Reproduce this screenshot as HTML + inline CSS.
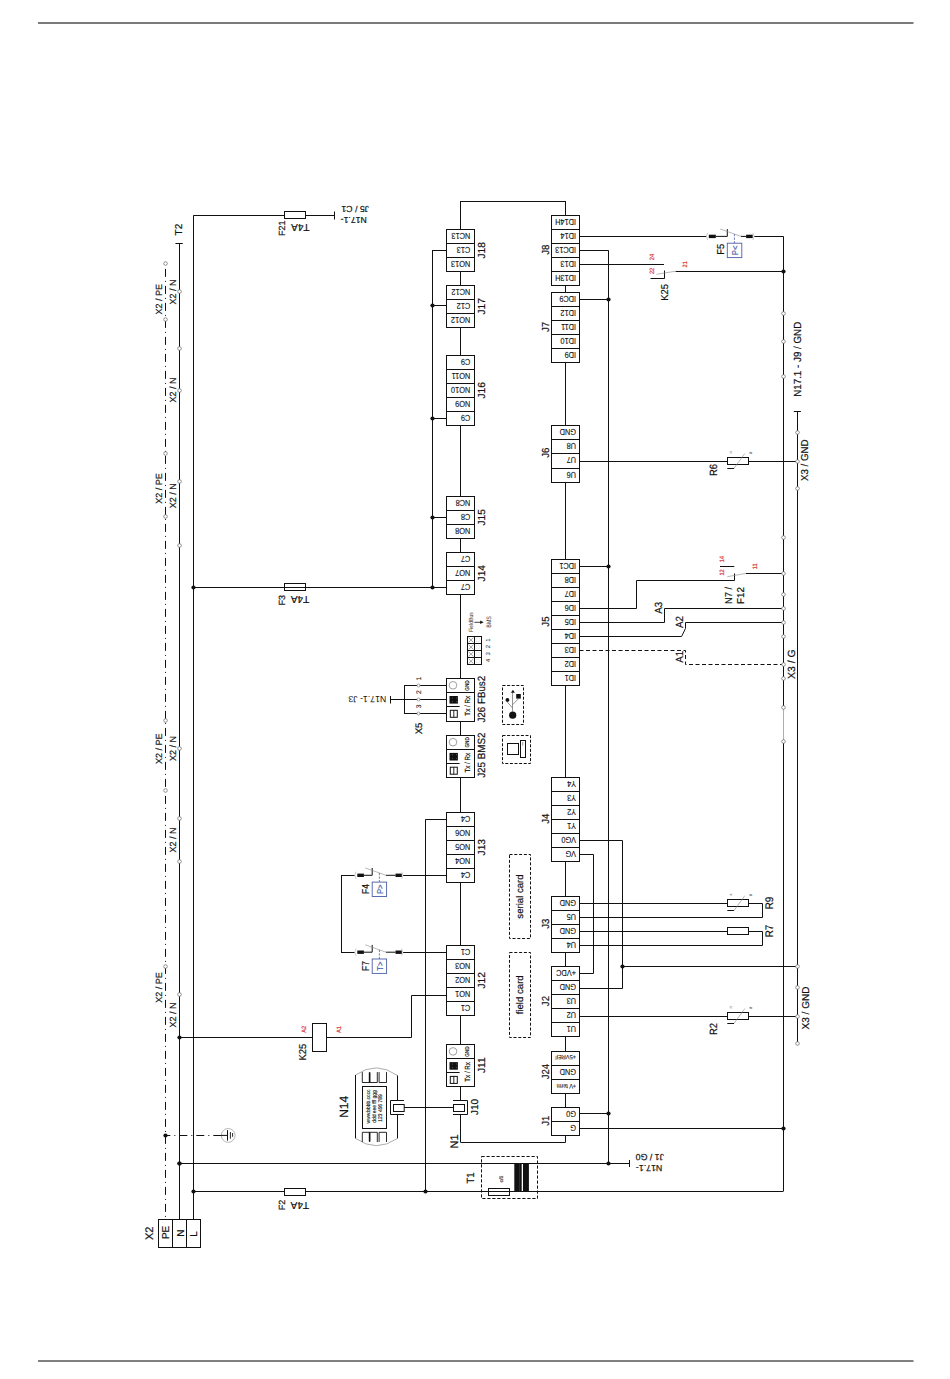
<!DOCTYPE html>
<html><head><meta charset="utf-8"><style>
html,body{margin:0;padding:0;background:#fff;}
svg{display:block;font-family:"Liberation Sans",sans-serif;text-rendering:geometricPrecision;}
</style></head><body>
<svg width="950" height="1379" viewBox="0 0 950 1379">
<rect x="0" y="0" width="950" height="1379" fill="#fff"/>
<rect x="38" y="22" width="875.5" height="2" fill="#7a7a7a"/>
<rect x="38" y="1360" width="875.5" height="2" fill="#808080"/>
<line x1="193.5" y1="215.5" x2="193.5" y2="1219.6" stroke="#111" stroke-width="1" />
<line x1="179.5" y1="243.5" x2="179.5" y2="1219.6" stroke="#111" stroke-width="1" />
<line x1="175.4" y1="243.5" x2="182.8" y2="243.5" stroke="#111" stroke-width="1" />
<line x1="165.5" y1="263.5" x2="165.5" y2="1219.6" stroke="#111" stroke-width="1" stroke-dasharray="8 4 1 4" stroke-dashoffset="11.6"/>
<line x1="193.3" y1="215.5" x2="334.5" y2="215.5" stroke="#111" stroke-width="1" />
<line x1="334.5" y1="211.5" x2="334.5" y2="219.5" stroke="#111" stroke-width="1" />
<rect x="284.5" y="211.5" width="21.0" height="7.0" fill="#fff" stroke="#111" stroke-width="1" />
<line x1="193.3" y1="587.5" x2="446.5" y2="587.5" stroke="#111" stroke-width="1" />
<rect x="284.5" y="583.5" width="21.0" height="7.0" fill="none" stroke="#111" stroke-width="1" />
<circle cx="193.5" cy="587.5" r="2.1" fill="#111"/>
<line x1="432.5" y1="250.4" x2="432.5" y2="587.3" stroke="#111" stroke-width="1" />
<line x1="432" y1="250.5" x2="446.5" y2="250.5" stroke="#111" stroke-width="1" />
<line x1="432" y1="305.5" x2="446.5" y2="305.5" stroke="#111" stroke-width="1" />
<line x1="432" y1="418.5" x2="446.5" y2="418.5" stroke="#111" stroke-width="1" />
<line x1="432" y1="517.5" x2="446.5" y2="517.5" stroke="#111" stroke-width="1" />
<circle cx="432.5" cy="305.5" r="2.1" fill="#111"/>
<circle cx="432.5" cy="418.5" r="2.1" fill="#111"/>
<circle cx="432.5" cy="517.5" r="2.1" fill="#111"/>
<circle cx="432.5" cy="587.5" r="2.1" fill="#111"/>
<line x1="460.5" y1="201" x2="460.5" y2="1142.1" stroke="#111" stroke-width="1" />
<line x1="460.4" y1="201.5" x2="565.7" y2="201.5" stroke="#111" stroke-width="1" />
<line x1="565.5" y1="201" x2="565.5" y2="1142.1" stroke="#111" stroke-width="1" />
<line x1="460.4" y1="1142.5" x2="565.7" y2="1142.5" stroke="#111" stroke-width="1" />
<rect x="446.5" y="229.5" width="28.0" height="42.0" fill="#fff" stroke="#111" stroke-width="1" />
<line x1="446.5" y1="243.5" x2="474.4" y2="243.5" stroke="#111" stroke-width="1" />
<line x1="446.5" y1="257.5" x2="474.4" y2="257.5" stroke="#111" stroke-width="1" />
<text font-size="8.7" fill="#111" stroke="#111" stroke-width="0.12" transform="translate(470.3 233.0) rotate(180) scale(0.85 1)">NC13</text>
<text font-size="8.7" fill="#111" stroke="#111" stroke-width="0.12" transform="translate(470.3 247.0) rotate(180) scale(0.85 1)">C13</text>
<text font-size="8.7" fill="#111" stroke="#111" stroke-width="0.12" transform="translate(470.3 261.0) rotate(180) scale(0.85 1)">NO13</text>
<text x="485.3" y="250.4" font-size="10.2" text-anchor="middle" fill="#111" stroke="#111" stroke-width="0.2" transform="rotate(-90 485.3 250.4)" >J18</text>
<rect x="446.5" y="285.5" width="28.0" height="42.0" fill="#fff" stroke="#111" stroke-width="1" />
<line x1="446.5" y1="299.5" x2="474.4" y2="299.5" stroke="#111" stroke-width="1" />
<line x1="446.5" y1="313.5" x2="474.4" y2="313.5" stroke="#111" stroke-width="1" />
<text font-size="8.7" fill="#111" stroke="#111" stroke-width="0.12" transform="translate(470.3 289.0) rotate(180) scale(0.85 1)">NC12</text>
<text font-size="8.7" fill="#111" stroke="#111" stroke-width="0.12" transform="translate(470.3 303.0) rotate(180) scale(0.85 1)">C12</text>
<text font-size="8.7" fill="#111" stroke="#111" stroke-width="0.12" transform="translate(470.3 317.0) rotate(180) scale(0.85 1)">NO12</text>
<text x="485.3" y="306.4" font-size="10.2" text-anchor="middle" fill="#111" stroke="#111" stroke-width="0.2" transform="rotate(-90 485.3 306.4)" >J17</text>
<rect x="446.5" y="355.5" width="28.0" height="70.0" fill="#fff" stroke="#111" stroke-width="1" />
<line x1="446.5" y1="369.5" x2="474.4" y2="369.5" stroke="#111" stroke-width="1" />
<line x1="446.5" y1="383.5" x2="474.4" y2="383.5" stroke="#111" stroke-width="1" />
<line x1="446.5" y1="397.5" x2="474.4" y2="397.5" stroke="#111" stroke-width="1" />
<line x1="446.5" y1="411.5" x2="474.4" y2="411.5" stroke="#111" stroke-width="1" />
<text font-size="8.7" fill="#111" stroke="#111" stroke-width="0.12" transform="translate(470.3 359.0) rotate(180) scale(0.85 1)">C9</text>
<text font-size="8.7" fill="#111" stroke="#111" stroke-width="0.12" transform="translate(470.3 373.0) rotate(180) scale(0.85 1)">NO11</text>
<text font-size="8.7" fill="#111" stroke="#111" stroke-width="0.12" transform="translate(470.3 387.0) rotate(180) scale(0.85 1)">NO10</text>
<text font-size="8.7" fill="#111" stroke="#111" stroke-width="0.12" transform="translate(470.3 401.0) rotate(180) scale(0.85 1)">NO9</text>
<text font-size="8.7" fill="#111" stroke="#111" stroke-width="0.12" transform="translate(470.3 415.0) rotate(180) scale(0.85 1)">C9</text>
<text x="485.3" y="390.3" font-size="10.2" text-anchor="middle" fill="#111" stroke="#111" stroke-width="0.2" transform="rotate(-90 485.3 390.3)" >J16</text>
<rect x="446.5" y="496.5" width="28.0" height="42.0" fill="#fff" stroke="#111" stroke-width="1" />
<line x1="446.5" y1="510.5" x2="474.4" y2="510.5" stroke="#111" stroke-width="1" />
<line x1="446.5" y1="524.5" x2="474.4" y2="524.5" stroke="#111" stroke-width="1" />
<text font-size="8.7" fill="#111" stroke="#111" stroke-width="0.12" transform="translate(470.3 500.0) rotate(180) scale(0.85 1)">NC8</text>
<text font-size="8.7" fill="#111" stroke="#111" stroke-width="0.12" transform="translate(470.3 514.0) rotate(180) scale(0.85 1)">C8</text>
<text font-size="8.7" fill="#111" stroke="#111" stroke-width="0.12" transform="translate(470.3 528.0) rotate(180) scale(0.85 1)">NO8</text>
<text x="485.3" y="517.3" font-size="10.2" text-anchor="middle" fill="#111" stroke="#111" stroke-width="0.2" transform="rotate(-90 485.3 517.3)" >J15</text>
<rect x="446.5" y="552.5" width="28.0" height="42.0" fill="#fff" stroke="#111" stroke-width="1" />
<line x1="446.5" y1="566.5" x2="474.4" y2="566.5" stroke="#111" stroke-width="1" />
<line x1="446.5" y1="580.5" x2="474.4" y2="580.5" stroke="#111" stroke-width="1" />
<text font-size="8.7" fill="#111" stroke="#111" stroke-width="0.12" transform="translate(470.3 556.0) rotate(180) scale(0.85 1)">C7</text>
<text font-size="8.7" fill="#111" stroke="#111" stroke-width="0.12" transform="translate(470.3 570.0) rotate(180) scale(0.85 1)">NO7</text>
<text font-size="8.7" fill="#111" stroke="#111" stroke-width="0.12" transform="translate(470.3 584.0) rotate(180) scale(0.85 1)">C7</text>
<text x="485.3" y="573.2" font-size="10.2" text-anchor="middle" fill="#111" stroke="#111" stroke-width="0.2" transform="rotate(-90 485.3 573.2)" >J14</text>
<rect x="446.5" y="812.5" width="28.0" height="70.0" fill="#fff" stroke="#111" stroke-width="1" />
<line x1="446.5" y1="826.5" x2="474.4" y2="826.5" stroke="#111" stroke-width="1" />
<line x1="446.5" y1="840.5" x2="474.4" y2="840.5" stroke="#111" stroke-width="1" />
<line x1="446.5" y1="854.5" x2="474.4" y2="854.5" stroke="#111" stroke-width="1" />
<line x1="446.5" y1="868.5" x2="474.4" y2="868.5" stroke="#111" stroke-width="1" />
<text font-size="8.7" fill="#111" stroke="#111" stroke-width="0.12" transform="translate(470.3 816.0) rotate(180) scale(0.85 1)">C4</text>
<text font-size="8.7" fill="#111" stroke="#111" stroke-width="0.12" transform="translate(470.3 830.0) rotate(180) scale(0.85 1)">NO6</text>
<text font-size="8.7" fill="#111" stroke="#111" stroke-width="0.12" transform="translate(470.3 844.0) rotate(180) scale(0.85 1)">NO5</text>
<text font-size="8.7" fill="#111" stroke="#111" stroke-width="0.12" transform="translate(470.3 858.0) rotate(180) scale(0.85 1)">NO4</text>
<text font-size="8.7" fill="#111" stroke="#111" stroke-width="0.12" transform="translate(470.3 872.0) rotate(180) scale(0.85 1)">C4</text>
<text x="485.3" y="847.2" font-size="10.2" text-anchor="middle" fill="#111" stroke="#111" stroke-width="0.2" transform="rotate(-90 485.3 847.2)" >J13</text>
<rect x="446.5" y="945.5" width="28.0" height="70.0" fill="#fff" stroke="#111" stroke-width="1" />
<line x1="446.5" y1="959.5" x2="474.4" y2="959.5" stroke="#111" stroke-width="1" />
<line x1="446.5" y1="973.5" x2="474.4" y2="973.5" stroke="#111" stroke-width="1" />
<line x1="446.5" y1="987.5" x2="474.4" y2="987.5" stroke="#111" stroke-width="1" />
<line x1="446.5" y1="1001.5" x2="474.4" y2="1001.5" stroke="#111" stroke-width="1" />
<text font-size="8.7" fill="#111" stroke="#111" stroke-width="0.12" transform="translate(470.3 949.0) rotate(180) scale(0.85 1)">C1</text>
<text font-size="8.7" fill="#111" stroke="#111" stroke-width="0.12" transform="translate(470.3 963.0) rotate(180) scale(0.85 1)">NO3</text>
<text font-size="8.7" fill="#111" stroke="#111" stroke-width="0.12" transform="translate(470.3 977.0) rotate(180) scale(0.85 1)">NO2</text>
<text font-size="8.7" fill="#111" stroke="#111" stroke-width="0.12" transform="translate(470.3 991.0) rotate(180) scale(0.85 1)">NO1</text>
<text font-size="8.7" fill="#111" stroke="#111" stroke-width="0.12" transform="translate(470.3 1005.0) rotate(180) scale(0.85 1)">C1</text>
<text x="485.3" y="980.3" font-size="10.2" text-anchor="middle" fill="#111" stroke="#111" stroke-width="0.2" transform="rotate(-90 485.3 980.3)" >J12</text>
<rect x="551.5" y="215.5" width="28.0" height="70.0" fill="#fff" stroke="#111" stroke-width="1" />
<line x1="551.8" y1="229.5" x2="579.6999999999999" y2="229.5" stroke="#111" stroke-width="1" />
<line x1="551.8" y1="243.5" x2="579.6999999999999" y2="243.5" stroke="#111" stroke-width="1" />
<line x1="551.8" y1="257.5" x2="579.6999999999999" y2="257.5" stroke="#111" stroke-width="1" />
<line x1="551.8" y1="271.5" x2="579.6999999999999" y2="271.5" stroke="#111" stroke-width="1" />
<text font-size="8.7" fill="#111" stroke="#111" stroke-width="0.12" transform="translate(576.1 219.0) rotate(180) scale(0.85 1)">ID14H</text>
<text font-size="8.7" fill="#111" stroke="#111" stroke-width="0.12" transform="translate(576.1 233.0) rotate(180) scale(0.85 1)">ID14</text>
<text font-size="8.7" fill="#111" stroke="#111" stroke-width="0.12" transform="translate(576.1 247.0) rotate(180) scale(0.85 1)">IDC13</text>
<text font-size="8.7" fill="#111" stroke="#111" stroke-width="0.12" transform="translate(576.1 261.0) rotate(180) scale(0.85 1)">ID13</text>
<text font-size="8.7" fill="#111" stroke="#111" stroke-width="0.12" transform="translate(576.1 275.0) rotate(180) scale(0.85 1)">ID13H</text>
<text font-size="10.2" text-anchor="middle" fill="#111" stroke="#111" stroke-width="0.2" transform="translate(549.0 249.70000000000002) rotate(-90) scale(0.94 1)">J8</text>
<rect x="551.5" y="292.5" width="28.0" height="70.0" fill="#fff" stroke="#111" stroke-width="1" />
<line x1="551.8" y1="306.5" x2="579.6999999999999" y2="306.5" stroke="#111" stroke-width="1" />
<line x1="551.8" y1="320.5" x2="579.6999999999999" y2="320.5" stroke="#111" stroke-width="1" />
<line x1="551.8" y1="334.5" x2="579.6999999999999" y2="334.5" stroke="#111" stroke-width="1" />
<line x1="551.8" y1="348.5" x2="579.6999999999999" y2="348.5" stroke="#111" stroke-width="1" />
<text font-size="8.7" fill="#111" stroke="#111" stroke-width="0.12" transform="translate(576.1 296.0) rotate(180) scale(0.85 1)">IDC9</text>
<text font-size="8.7" fill="#111" stroke="#111" stroke-width="0.12" transform="translate(576.1 310.0) rotate(180) scale(0.85 1)">ID12</text>
<text font-size="8.7" fill="#111" stroke="#111" stroke-width="0.12" transform="translate(576.1 324.0) rotate(180) scale(0.85 1)">ID11</text>
<text font-size="8.7" fill="#111" stroke="#111" stroke-width="0.12" transform="translate(576.1 338.0) rotate(180) scale(0.85 1)">ID10</text>
<text font-size="8.7" fill="#111" stroke="#111" stroke-width="0.12" transform="translate(576.1 352.0) rotate(180) scale(0.85 1)">ID9</text>
<text font-size="10.2" text-anchor="middle" fill="#111" stroke="#111" stroke-width="0.2" transform="translate(549.0 326.9) rotate(-90) scale(0.94 1)">J7</text>
<rect x="551.5" y="425.5" width="28.0" height="57.0" fill="#fff" stroke="#111" stroke-width="1" />
<line x1="551.8" y1="439.5" x2="579.6999999999999" y2="439.5" stroke="#111" stroke-width="1" />
<line x1="551.8" y1="453.5" x2="579.6999999999999" y2="453.5" stroke="#111" stroke-width="1" />
<line x1="551.8" y1="468.5" x2="579.6999999999999" y2="468.5" stroke="#111" stroke-width="1" />
<text font-size="8.7" fill="#111" stroke="#111" stroke-width="0.12" transform="translate(576.1 429.0) rotate(180) scale(0.85 1)">GND</text>
<text font-size="8.7" fill="#111" stroke="#111" stroke-width="0.12" transform="translate(576.1 443.0) rotate(180) scale(0.85 1)">U8</text>
<text font-size="8.7" fill="#111" stroke="#111" stroke-width="0.12" transform="translate(576.1 457.0) rotate(180) scale(0.85 1)">U7</text>
<text font-size="8.7" fill="#111" stroke="#111" stroke-width="0.12" transform="translate(576.1 472.0) rotate(180) scale(0.85 1)">U6</text>
<text font-size="10.2" text-anchor="middle" fill="#111" stroke="#111" stroke-width="0.2" transform="translate(549.0 452.79999999999995) rotate(-90) scale(0.94 1)">J6</text>
<rect x="551.5" y="559.5" width="28.0" height="126.0" fill="#fff" stroke="#111" stroke-width="1" />
<line x1="551.8" y1="573.5" x2="579.6999999999999" y2="573.5" stroke="#111" stroke-width="1" />
<line x1="551.8" y1="587.5" x2="579.6999999999999" y2="587.5" stroke="#111" stroke-width="1" />
<line x1="551.8" y1="601.5" x2="579.6999999999999" y2="601.5" stroke="#111" stroke-width="1" />
<line x1="551.8" y1="615.5" x2="579.6999999999999" y2="615.5" stroke="#111" stroke-width="1" />
<line x1="551.8" y1="629.5" x2="579.6999999999999" y2="629.5" stroke="#111" stroke-width="1" />
<line x1="551.8" y1="643.5" x2="579.6999999999999" y2="643.5" stroke="#111" stroke-width="1" />
<line x1="551.8" y1="657.5" x2="579.6999999999999" y2="657.5" stroke="#111" stroke-width="1" />
<line x1="551.8" y1="671.5" x2="579.6999999999999" y2="671.5" stroke="#111" stroke-width="1" />
<text font-size="8.7" fill="#111" stroke="#111" stroke-width="0.12" transform="translate(576.1 563.0) rotate(180) scale(0.85 1)">IDC1</text>
<text font-size="8.7" fill="#111" stroke="#111" stroke-width="0.12" transform="translate(576.1 577.0) rotate(180) scale(0.85 1)">ID8</text>
<text font-size="8.7" fill="#111" stroke="#111" stroke-width="0.12" transform="translate(576.1 591.0) rotate(180) scale(0.85 1)">ID7</text>
<text font-size="8.7" fill="#111" stroke="#111" stroke-width="0.12" transform="translate(576.1 605.0) rotate(180) scale(0.85 1)">ID6</text>
<text font-size="8.7" fill="#111" stroke="#111" stroke-width="0.12" transform="translate(576.1 619.0) rotate(180) scale(0.85 1)">ID5</text>
<text font-size="8.7" fill="#111" stroke="#111" stroke-width="0.12" transform="translate(576.1 633.0) rotate(180) scale(0.85 1)">ID4</text>
<text font-size="8.7" fill="#111" stroke="#111" stroke-width="0.12" transform="translate(576.1 647.0) rotate(180) scale(0.85 1)">ID3</text>
<text font-size="8.7" fill="#111" stroke="#111" stroke-width="0.12" transform="translate(576.1 661.0) rotate(180) scale(0.85 1)">ID2</text>
<text font-size="8.7" fill="#111" stroke="#111" stroke-width="0.12" transform="translate(576.1 675.0) rotate(180) scale(0.85 1)">ID1</text>
<text font-size="10.2" text-anchor="middle" fill="#111" stroke="#111" stroke-width="0.2" transform="translate(549.0 621.6) rotate(-90) scale(0.94 1)">J5</text>
<rect x="551.5" y="777.5" width="28.0" height="84.0" fill="#fff" stroke="#111" stroke-width="1" />
<line x1="551.8" y1="791.5" x2="579.6999999999999" y2="791.5" stroke="#111" stroke-width="1" />
<line x1="551.8" y1="805.5" x2="579.6999999999999" y2="805.5" stroke="#111" stroke-width="1" />
<line x1="551.8" y1="819.5" x2="579.6999999999999" y2="819.5" stroke="#111" stroke-width="1" />
<line x1="551.8" y1="833.5" x2="579.6999999999999" y2="833.5" stroke="#111" stroke-width="1" />
<line x1="551.8" y1="847.5" x2="579.6999999999999" y2="847.5" stroke="#111" stroke-width="1" />
<text font-size="8.7" fill="#111" stroke="#111" stroke-width="0.12" transform="translate(576.1 781.0) rotate(180) scale(0.85 1)">Y4</text>
<text font-size="8.7" fill="#111" stroke="#111" stroke-width="0.12" transform="translate(576.1 795.0) rotate(180) scale(0.85 1)">Y3</text>
<text font-size="8.7" fill="#111" stroke="#111" stroke-width="0.12" transform="translate(576.1 809.0) rotate(180) scale(0.85 1)">Y2</text>
<text font-size="8.7" fill="#111" stroke="#111" stroke-width="0.12" transform="translate(576.1 823.0) rotate(180) scale(0.85 1)">Y1</text>
<text font-size="8.7" fill="#111" stroke="#111" stroke-width="0.12" transform="translate(576.1 837.0) rotate(180) scale(0.85 1)">VG0</text>
<text font-size="8.7" fill="#111" stroke="#111" stroke-width="0.12" transform="translate(576.1 851.0) rotate(180) scale(0.85 1)">VG</text>
<text font-size="10.2" text-anchor="middle" fill="#111" stroke="#111" stroke-width="0.2" transform="translate(549.0 818.6999999999999) rotate(-90) scale(0.94 1)">J4</text>
<rect x="551.5" y="896.5" width="28.0" height="56.0" fill="#fff" stroke="#111" stroke-width="1" />
<line x1="551.8" y1="910.5" x2="579.6999999999999" y2="910.5" stroke="#111" stroke-width="1" />
<line x1="551.8" y1="924.5" x2="579.6999999999999" y2="924.5" stroke="#111" stroke-width="1" />
<line x1="551.8" y1="938.5" x2="579.6999999999999" y2="938.5" stroke="#111" stroke-width="1" />
<text font-size="8.7" fill="#111" stroke="#111" stroke-width="0.12" transform="translate(576.1 900.0) rotate(180) scale(0.85 1)">GND</text>
<text font-size="8.7" fill="#111" stroke="#111" stroke-width="0.12" transform="translate(576.1 914.0) rotate(180) scale(0.85 1)">U5</text>
<text font-size="8.7" fill="#111" stroke="#111" stroke-width="0.12" transform="translate(576.1 928.0) rotate(180) scale(0.85 1)">GND</text>
<text font-size="8.7" fill="#111" stroke="#111" stroke-width="0.12" transform="translate(576.1 942.0) rotate(180) scale(0.85 1)">U4</text>
<text font-size="10.2" text-anchor="middle" fill="#111" stroke="#111" stroke-width="0.2" transform="translate(549.0 923.6999999999999) rotate(-90) scale(0.94 1)">J3</text>
<rect x="551.5" y="966.5" width="28.0" height="70.0" fill="#fff" stroke="#111" stroke-width="1" />
<line x1="551.8" y1="980.5" x2="579.6999999999999" y2="980.5" stroke="#111" stroke-width="1" />
<line x1="551.8" y1="994.5" x2="579.6999999999999" y2="994.5" stroke="#111" stroke-width="1" />
<line x1="551.8" y1="1008.5" x2="579.6999999999999" y2="1008.5" stroke="#111" stroke-width="1" />
<line x1="551.8" y1="1022.5" x2="579.6999999999999" y2="1022.5" stroke="#111" stroke-width="1" />
<text font-size="8.7" fill="#111" stroke="#111" stroke-width="0.12" transform="translate(576.1 970.0) rotate(180) scale(0.85 1)">+VDC</text>
<text font-size="8.7" fill="#111" stroke="#111" stroke-width="0.12" transform="translate(576.1 984.0) rotate(180) scale(0.85 1)">GND</text>
<text font-size="8.7" fill="#111" stroke="#111" stroke-width="0.12" transform="translate(576.1 998.0) rotate(180) scale(0.85 1)">U3</text>
<text font-size="8.7" fill="#111" stroke="#111" stroke-width="0.12" transform="translate(576.1 1012.0) rotate(180) scale(0.85 1)">U2</text>
<text font-size="8.7" fill="#111" stroke="#111" stroke-width="0.12" transform="translate(576.1 1026.0) rotate(180) scale(0.85 1)">U1</text>
<text font-size="10.2" text-anchor="middle" fill="#111" stroke="#111" stroke-width="0.2" transform="translate(549.0 1001.1) rotate(-90) scale(0.94 1)">J2</text>
<rect x="551.5" y="1051.5" width="28.0" height="42.0" fill="#fff" stroke="#111" stroke-width="1" />
<line x1="551.8" y1="1065.5" x2="579.6999999999999" y2="1065.5" stroke="#111" stroke-width="1" />
<line x1="551.8" y1="1079.5" x2="579.6999999999999" y2="1079.5" stroke="#111" stroke-width="1" />
<text font-size="6.2" fill="#111" stroke="#111" stroke-width="0.12" transform="translate(576.1 1055.3) rotate(180) scale(0.92 1)">+5VREF</text>
<text font-size="8.7" fill="#111" stroke="#111" stroke-width="0.12" transform="translate(576.1 1069.0) rotate(180) scale(0.85 1)">GND</text>
<text font-size="6.4" fill="#111" stroke="#111" stroke-width="0.12" transform="translate(576.1 1083.5) rotate(180) scale(0.86 1)">+V term</text>
<text font-size="10.2" text-anchor="middle" fill="#111" stroke="#111" stroke-width="0.2" transform="translate(549.0 1071.6000000000001) rotate(-90) scale(0.94 1)">J24</text>
<rect x="551.5" y="1107.5" width="28.0" height="28.0" fill="#fff" stroke="#111" stroke-width="1" />
<line x1="551.8" y1="1121.5" x2="579.6999999999999" y2="1121.5" stroke="#111" stroke-width="1" />
<text font-size="8.7" fill="#111" stroke="#111" stroke-width="0.12" transform="translate(576.1 1111.0) rotate(180) scale(0.85 1)">G0</text>
<text font-size="8.7" fill="#111" stroke="#111" stroke-width="0.12" transform="translate(576.1 1125.0) rotate(180) scale(0.85 1)">G</text>
<text font-size="10.2" text-anchor="middle" fill="#111" stroke="#111" stroke-width="0.2" transform="translate(549.0 1120.8000000000002) rotate(-90) scale(0.94 1)">J1</text>
<rect x="446.5" y="678.5" width="28.0" height="43.0" fill="#fff" stroke="#111" stroke-width="1" />
<line x1="446.5" y1="692.5" x2="474.4" y2="692.5" stroke="#111" stroke-width="1" />
<line x1="446.5" y1="706.5" x2="459.6" y2="706.5" stroke="#111" stroke-width="1" />
<circle cx="453" cy="685.3" r="3.8" fill="none" stroke="#888" stroke-width="0.8"/>
<rect x="449.5" y="696.0" width="8.4" height="7.6" fill="#111"/>
<circle cx="452.3" cy="697.9" r="0.45" fill="#999"/>
<circle cx="452.3" cy="701.7" r="0.45" fill="#999"/>
<circle cx="456.5" cy="697.9" r="0.45" fill="#999"/>
<circle cx="456.5" cy="701.7" r="0.45" fill="#999"/>
<rect x="450.3" y="710.3" width="7" height="7" fill="none" stroke="#111" stroke-width="1"/>
<line x1="453.8" y1="710.3" x2="453.8" y2="717.3" stroke="#111" stroke-width="0.9"/>
<text font-size="5.5" text-anchor="middle" fill="#111" stroke="#111" stroke-width="0.2" transform="translate(469.2 685.5) rotate(-90) scale(0.85 1)">GND</text>
<text font-size="7.4" text-anchor="middle" fill="#111" stroke="#111" stroke-width="0.2" transform="translate(469.7 705.8) rotate(-90) scale(0.84 1)">Tx / Rx</text>
<rect x="446.5" y="735.5" width="28.0" height="42.0" fill="#fff" stroke="#111" stroke-width="1" />
<line x1="446.5" y1="749.5" x2="474.4" y2="749.5" stroke="#111" stroke-width="1" />
<line x1="446.5" y1="763.5" x2="459.6" y2="763.5" stroke="#111" stroke-width="1" />
<circle cx="453" cy="742.2" r="3.8" fill="none" stroke="#888" stroke-width="0.8"/>
<rect x="449.5" y="752.9000000000001" width="8.4" height="7.6" fill="#111"/>
<circle cx="452.3" cy="754.8000000000001" r="0.45" fill="#999"/>
<circle cx="452.3" cy="758.6000000000001" r="0.45" fill="#999"/>
<circle cx="456.5" cy="754.8000000000001" r="0.45" fill="#999"/>
<circle cx="456.5" cy="758.6000000000001" r="0.45" fill="#999"/>
<rect x="450.3" y="767.2" width="7" height="7" fill="none" stroke="#111" stroke-width="1"/>
<line x1="453.8" y1="767.2" x2="453.8" y2="774.2" stroke="#111" stroke-width="0.9"/>
<text font-size="5.5" text-anchor="middle" fill="#111" stroke="#111" stroke-width="0.2" transform="translate(469.2 742.4000000000001) rotate(-90) scale(0.85 1)">GND</text>
<text font-size="7.4" text-anchor="middle" fill="#111" stroke="#111" stroke-width="0.2" transform="translate(469.7 762.7) rotate(-90) scale(0.84 1)">Tx / Rx</text>
<rect x="446.5" y="1044.5" width="28.0" height="42.0" fill="#fff" stroke="#111" stroke-width="1" />
<line x1="446.5" y1="1058.5" x2="474.4" y2="1058.5" stroke="#111" stroke-width="1" />
<line x1="446.5" y1="1072.5" x2="459.6" y2="1072.5" stroke="#111" stroke-width="1" />
<circle cx="453" cy="1051.4" r="3.8" fill="none" stroke="#888" stroke-width="0.8"/>
<rect x="449.5" y="1062.1000000000001" width="8.4" height="7.6" fill="#111"/>
<circle cx="452.3" cy="1064.0" r="0.45" fill="#999"/>
<circle cx="452.3" cy="1067.8000000000002" r="0.45" fill="#999"/>
<circle cx="456.5" cy="1064.0" r="0.45" fill="#999"/>
<circle cx="456.5" cy="1067.8000000000002" r="0.45" fill="#999"/>
<rect x="450.3" y="1076.4" width="7" height="7" fill="none" stroke="#111" stroke-width="1"/>
<line x1="453.8" y1="1076.4" x2="453.8" y2="1083.4" stroke="#111" stroke-width="0.9"/>
<text font-size="5.5" text-anchor="middle" fill="#111" stroke="#111" stroke-width="0.2" transform="translate(469.2 1051.6000000000001) rotate(-90) scale(0.85 1)">GND</text>
<text font-size="7.4" text-anchor="middle" fill="#111" stroke="#111" stroke-width="0.2" transform="translate(469.7 1071.9) rotate(-90) scale(0.84 1)">Tx / Rx</text>
<text font-size="10.5" text-anchor="middle" fill="#111" stroke="#111" stroke-width="0.2" transform="translate(485.2 699.2) rotate(-90) scale(0.93 1)">J26 FBus2</text>
<text font-size="10.5" text-anchor="middle" fill="#111" stroke="#111" stroke-width="0.2" transform="translate(485.2 755.2) rotate(-90) scale(0.936 1)">J25 BMS2</text>
<text font-size="10.2" text-anchor="middle" fill="#111" stroke="#111" stroke-width="0.2" transform="translate(485.3 1065.2) rotate(-90) scale(1 1)">J11</text>
<line x1="783.5" y1="236.4" x2="783.5" y2="707.1" stroke="#111" stroke-width="1" />
<line x1="783.5" y1="707.1" x2="783.5" y2="741.6" stroke="#777" stroke-width="0.6"/>
<line x1="783.5" y1="741.6" x2="783.5" y2="1191.2" stroke="#111" stroke-width="1" />
<line x1="797.5" y1="411.4" x2="797.5" y2="1043.3" stroke="#111" stroke-width="1" />
<line x1="793.8" y1="411.5" x2="800.9" y2="411.5" stroke="#111" stroke-width="1" />
<line x1="193.3" y1="1191.5" x2="783.4" y2="1191.5" stroke="#111" stroke-width="1" />
<circle cx="193.5" cy="1191.5" r="2.1" fill="#111"/>
<rect x="284.5" y="1188.5" width="21.0" height="7.0" fill="#fff" stroke="#111" stroke-width="1" />
<line x1="179.2" y1="1163.5" x2="629.5" y2="1163.5" stroke="#111" stroke-width="1" />
<line x1="629.5" y1="1160" x2="629.5" y2="1167" stroke="#111" stroke-width="1"/>
<circle cx="179.5" cy="1163.5" r="2.1" fill="#111"/>
<circle cx="608.5" cy="1163.5" r="2.1" fill="#111"/>
<text x="662.3" y="1165.2" font-size="8.8" fill="#111" stroke="#111" stroke-width="0.2" text-anchor="start" transform="rotate(180 662.3 1165.2)">N17.1-</text>
<text x="664.0" y="1153.8" font-size="8.8" fill="#111" stroke="#111" stroke-width="0.2" text-anchor="start" transform="rotate(180 664.0 1153.8)">J1 / G0</text>
<line x1="579.5" y1="250.5" x2="608" y2="250.5" stroke="#111" stroke-width="1" />
<line x1="608.5" y1="250.2" x2="608.5" y2="1163.2" stroke="#111" stroke-width="1" />
<line x1="579.5" y1="299.5" x2="608" y2="299.5" stroke="#111" stroke-width="1" />
<circle cx="608.5" cy="299.5" r="2.1" fill="#111"/>
<line x1="579.5" y1="566.5" x2="608" y2="566.5" stroke="#111" stroke-width="1" />
<circle cx="608.5" cy="566.5" r="2.1" fill="#111"/>
<line x1="579.5" y1="1113.5" x2="608" y2="1113.5" stroke="#111" stroke-width="1" />
<circle cx="608.5" cy="1113.5" r="2.1" fill="#111"/>
<line x1="579.5" y1="236.5" x2="706.3" y2="236.5" stroke="#111" stroke-width="1" />
<line x1="754.2" y1="236.5" x2="783.4" y2="236.5" stroke="#111" stroke-width="1" />
<line x1="579.5" y1="264.5" x2="664" y2="264.5" stroke="#111" stroke-width="1" />
<polyline points="650.5,278.5 664.5,278.5 664.5,270.5" fill="none" stroke="#111" stroke-width="1" />
<line x1="656.4" y1="274.3" x2="675.6" y2="271.2" stroke="#888" stroke-width="0.6"/>
<line x1="675.6" y1="271.5" x2="783.4" y2="271.5" stroke="#111" stroke-width="1" />
<circle cx="783.5" cy="271.5" r="2.1" fill="#111"/>
<text font-size="6.3" text-anchor="middle" fill="#d9383a" stroke="#d9383a" stroke-width="0.2" transform="translate(653.6 257.1) rotate(-90) scale(0.9 1)">24</text>
<text font-size="6.3" text-anchor="middle" fill="#d9383a" stroke="#d9383a" stroke-width="0.2" transform="translate(653.6 270.9) rotate(-90) scale(0.9 1)">22</text>
<text font-size="6.3" text-anchor="middle" fill="#d9383a" stroke="#d9383a" stroke-width="0.2" transform="translate(687.0 264.3) rotate(-90) scale(0.9 1)">21</text>
<text font-size="10" text-anchor="middle" fill="#111" stroke="#111" stroke-width="0.2" transform="translate(667.8 292.3) rotate(-90) scale(0.94 1)">K25</text>
<line x1="579.5" y1="461.5" x2="727.3" y2="461.5" stroke="#111" stroke-width="1" />
<line x1="748.6" y1="461.5" x2="797.4" y2="461.5" stroke="#111" stroke-width="1" />
<rect x="727.5" y="457.5" width="21.0" height="7.0" fill="#fff" stroke="#111" stroke-width="1" />
<line x1="727.3" y1="468.5" x2="734.0999999999999" y2="468.5" stroke="#111" stroke-width="1"/>
<line x1="734.0999999999999" y1="468.3" x2="744.8" y2="453.5" stroke="#888" stroke-width="0.6"/>
<text font-size="3.5" text-anchor="middle" fill="#777" stroke="#777" stroke-width="0.2" transform="translate(732.3 452.7) rotate(-90) scale(1 1)">-t</text>
<text font-size="3.5" text-anchor="middle" fill="#777" stroke="#777" stroke-width="0.2" transform="translate(752.4 452.90000000000003) rotate(-90) scale(1 1)">ϑ</text>
<text font-size="10.5" text-anchor="middle" fill="#111" stroke="#111" stroke-width="0.2" transform="translate(717 470) rotate(-90) scale(0.9 1)">R6</text>
<polyline points="579.5,608.5 636.5,608.5 636.5,580.5 734.5,580.5 734.5,573.5" fill="none" stroke="#111" stroke-width="1" />
<line x1="720" y1="566.5" x2="734.3" y2="566.5" stroke="#111" stroke-width="1" />
<line x1="727.3" y1="576.7" x2="746" y2="573.4" stroke="#888" stroke-width="0.6"/>
<line x1="746" y1="573.5" x2="783.4" y2="573.5" stroke="#111" stroke-width="1" />
<text font-size="6.3" text-anchor="middle" fill="#d9383a" stroke="#d9383a" stroke-width="0.2" transform="translate(723.6 559.2) rotate(-90) scale(0.9 1)">14</text>
<text font-size="6.3" text-anchor="middle" fill="#d9383a" stroke="#d9383a" stroke-width="0.2" transform="translate(723.6 572.4) rotate(-90) scale(0.9 1)">12</text>
<text font-size="6.3" text-anchor="middle" fill="#d9383a" stroke="#d9383a" stroke-width="0.2" transform="translate(756.7 566.2) rotate(-90) scale(0.9 1)">11</text>
<text font-size="10" text-anchor="start" fill="#111" stroke="#111" stroke-width="0.2" transform="translate(732.4 604) rotate(-90) scale(0.93 1)">N7 /</text>
<text font-size="10" text-anchor="start" fill="#111" stroke="#111" stroke-width="0.2" transform="translate(744.2 604) rotate(-90) scale(0.98 1)">F12</text>
<polyline points="579.5,622.5 664.5,622.5 664.5,608.5 783.5,608.5" fill="none" stroke="#111" stroke-width="1" />
<polyline points="579.5,636.5 681.5,636.5" fill="none" stroke="#111" stroke-width="1" />
<polyline points="681.6,636.5 685.5,628.4 685.5,622.5" fill="none" stroke="#111" stroke-width="1"/>
<line x1="685.5" y1="622.5" x2="783.4" y2="622.5" stroke="#111" stroke-width="1" />
<polyline points="579.5,650.5 685.5,650.5 685.5,664.5 783.5,664.5" fill="none" stroke="#111" stroke-width="1" stroke-dasharray="4 2.5"/>
<text font-size="10.5" text-anchor="middle" fill="#111" stroke="#111" stroke-width="0.2" transform="translate(662.1 607.8) rotate(-90) scale(0.92 1)">A3</text>
<text font-size="10.5" text-anchor="middle" fill="#111" stroke="#111" stroke-width="0.2" transform="translate(683.2 622.1) rotate(-90) scale(0.92 1)">A2</text>
<text font-size="10.5" text-anchor="middle" fill="#111" stroke="#111" stroke-width="0.2" transform="translate(683.2 656.8) rotate(-90) scale(0.92 1)">A1</text>
<polyline points="579.5,840.5 622.5,840.5 622.5,988.5" fill="none" stroke="#111" stroke-width="1" />
<line x1="579.5" y1="988.5" x2="622.5" y2="988.5" stroke="#111" stroke-width="1" />
<polyline points="579.5,854.5 593.5,854.5 593.5,973.5 579.5,973.5" fill="none" stroke="#111" stroke-width="1" />
<line x1="622.5" y1="966.5" x2="797.4" y2="966.5" stroke="#111" stroke-width="1" />
<circle cx="622.5" cy="966.5" r="2.1" fill="#111"/>
<polyline points="579.5,903.5 727.5,903.5" fill="none" stroke="#111" stroke-width="1" />
<polyline points="748.5,903.5 762.5,903.5 762.5,917.5 579.5,917.5" fill="none" stroke="#111" stroke-width="1" />
<rect x="727.5" y="899.5" width="21.0" height="7.0" fill="#fff" stroke="#111" stroke-width="1" />
<line x1="727.3" y1="910.5" x2="734.0999999999999" y2="910.5" stroke="#111" stroke-width="1"/>
<line x1="734.0999999999999" y1="910.5" x2="744.8" y2="895.7" stroke="#888" stroke-width="0.6"/>
<text font-size="3.5" text-anchor="middle" fill="#777" stroke="#777" stroke-width="0.2" transform="translate(732.3 894.9) rotate(-90) scale(1 1)">-t</text>
<text font-size="3.5" text-anchor="middle" fill="#777" stroke="#777" stroke-width="0.2" transform="translate(752.4 895.1) rotate(-90) scale(1 1)">ϑ</text>
<polyline points="579.5,931.5 727.5,931.5" fill="none" stroke="#111" stroke-width="1" />
<polyline points="748.5,931.5 762.5,931.5 762.5,945.5 579.5,945.5" fill="none" stroke="#111" stroke-width="1" />
<rect x="727.5" y="927.5" width="21.0" height="7.0" fill="#fff" stroke="#111" stroke-width="1" />
<text font-size="11" text-anchor="middle" fill="#111" stroke="#111" stroke-width="0.2" transform="translate(773.2 903) rotate(-90) scale(0.9 1)">R9</text>
<text font-size="11" text-anchor="middle" fill="#111" stroke="#111" stroke-width="0.2" transform="translate(773.2 931) rotate(-90) scale(0.9 1)">R7</text>
<line x1="579.5" y1="1016.5" x2="727.3" y2="1016.5" stroke="#111" stroke-width="1" />
<line x1="748.6" y1="1016.5" x2="797.4" y2="1016.5" stroke="#111" stroke-width="1" />
<rect x="727.5" y="1012.5" width="21.0" height="7.0" fill="#fff" stroke="#111" stroke-width="1" />
<line x1="727.3" y1="1023.5" x2="734.0999999999999" y2="1023.5" stroke="#111" stroke-width="1"/>
<line x1="734.0999999999999" y1="1023.3" x2="744.8" y2="1008.5" stroke="#888" stroke-width="0.6"/>
<text font-size="3.5" text-anchor="middle" fill="#777" stroke="#777" stroke-width="0.2" transform="translate(732.3 1007.6999999999999) rotate(-90) scale(1 1)">-t</text>
<text font-size="3.5" text-anchor="middle" fill="#777" stroke="#777" stroke-width="0.2" transform="translate(752.4 1007.9) rotate(-90) scale(1 1)">ϑ</text>
<text font-size="10.5" text-anchor="middle" fill="#111" stroke="#111" stroke-width="0.2" transform="translate(717 1029) rotate(-90) scale(0.9 1)">R2</text>
<line x1="579.5" y1="1128.5" x2="783.4" y2="1128.5" stroke="#111" stroke-width="1" />
<circle cx="783.5" cy="1128.5" r="2.1" fill="#111"/>
<text font-size="10.3" text-anchor="middle" fill="#111" stroke="#111" stroke-width="0.2" transform="translate(801.3 359.3) rotate(-90) scale(0.95 1)">N17.1 - J9 / GND</text>
<text font-size="10" text-anchor="middle" fill="#111" stroke="#111" stroke-width="0.2" transform="translate(808.4 460.2) rotate(-90) scale(0.97 1)">X3 / GND</text>
<text font-size="10.4" text-anchor="middle" fill="#111" stroke="#111" stroke-width="0.2" transform="translate(794.7 664.2) rotate(-90) scale(1 1)">X3 / G</text>
<text font-size="10" text-anchor="middle" fill="#111" stroke="#111" stroke-width="0.2" transform="translate(808.8 1008) rotate(-90) scale(1.0 1)">X3 / GND</text>
<circle cx="783.5" cy="313.5" r="1.8" fill="#fff" stroke="#666" stroke-width="0.7"/>
<circle cx="783.5" cy="341.5" r="1.8" fill="#fff" stroke="#666" stroke-width="0.7"/>
<circle cx="783.5" cy="376.5" r="1.8" fill="#fff" stroke="#666" stroke-width="0.7"/>
<circle cx="783.5" cy="537.5" r="1.8" fill="#fff" stroke="#666" stroke-width="0.7"/>
<circle cx="783.5" cy="573.5" r="1.8" fill="#fff" stroke="#666" stroke-width="0.7"/>
<circle cx="783.5" cy="594.5" r="1.8" fill="#fff" stroke="#666" stroke-width="0.7"/>
<circle cx="783.5" cy="608.5" r="1.8" fill="#fff" stroke="#666" stroke-width="0.7"/>
<circle cx="783.5" cy="622.5" r="1.8" fill="#fff" stroke="#666" stroke-width="0.7"/>
<circle cx="783.5" cy="636.5" r="1.8" fill="#fff" stroke="#666" stroke-width="0.7"/>
<circle cx="783.5" cy="664.5" r="1.8" fill="#fff" stroke="#666" stroke-width="0.7"/>
<circle cx="783.5" cy="678.5" r="1.8" fill="#fff" stroke="#666" stroke-width="0.7"/>
<circle cx="783.5" cy="707.5" r="1.8" fill="#fff" stroke="#666" stroke-width="0.7"/>
<circle cx="783.5" cy="741.5" r="1.8" fill="#fff" stroke="#666" stroke-width="0.7"/>
<circle cx="797.5" cy="432.5" r="1.8" fill="#fff" stroke="#666" stroke-width="0.7"/>
<circle cx="797.5" cy="461.5" r="1.8" fill="#fff" stroke="#666" stroke-width="0.7"/>
<circle cx="797.5" cy="488.5" r="1.8" fill="#fff" stroke="#666" stroke-width="0.7"/>
<circle cx="797.5" cy="966.5" r="1.8" fill="#fff" stroke="#666" stroke-width="0.7"/>
<circle cx="797.5" cy="987.5" r="1.8" fill="#fff" stroke="#666" stroke-width="0.7"/>
<circle cx="797.5" cy="1016.5" r="1.8" fill="#fff" stroke="#666" stroke-width="0.7"/>
<circle cx="797.5" cy="1043.5" r="1.8" fill="#fff" stroke="#666" stroke-width="0.7"/>
<polyline points="179.5,1037.5 312.5,1037.5" fill="none" stroke="#111" stroke-width="1" />
<circle cx="179.5" cy="1037.5" r="2.1" fill="#111"/>
<rect x="312.5" y="1023.5" width="14.0" height="28.0" fill="#fff" stroke="#111" stroke-width="1" />
<polyline points="326.5,1037.5 411.5,1037.5 411.5,995.5 446.5,995.5" fill="none" stroke="#111" stroke-width="1" />
<line x1="425.5" y1="819.4" x2="425.5" y2="1191.2" stroke="#111" stroke-width="1" />
<line x1="425.4" y1="819.5" x2="446.5" y2="819.5" stroke="#111" stroke-width="1" />
<circle cx="425.5" cy="1191.5" r="2.1" fill="#111"/>
<line x1="341.5" y1="875.4" x2="341.5" y2="952.2" stroke="#111" stroke-width="1" />
<line x1="341" y1="875.5" x2="354.7" y2="875.5" stroke="#111" stroke-width="1" />
<line x1="403" y1="875.5" x2="446.5" y2="875.5" stroke="#111" stroke-width="1" />
<line x1="341" y1="952.5" x2="354.7" y2="952.5" stroke="#111" stroke-width="1" />
<line x1="403" y1="952.5" x2="446.5" y2="952.5" stroke="#111" stroke-width="1" />
<line x1="221.3" y1="1135.5" x2="165.5" y2="1135.5" stroke="#111" stroke-width="1" stroke-dasharray="8 4 1 4"/>
<circle cx="165.5" cy="1135.5" r="2.1" fill="#111"/>
<rect x="158.5" y="1219.5" width="42.0" height="28.0" fill="#fff" stroke="#111" stroke-width="1" />
<line x1="172.5" y1="1219.6" x2="172.5" y2="1247.4" stroke="#111" stroke-width="1" />
<line x1="186.5" y1="1219.6" x2="186.5" y2="1247.4" stroke="#111" stroke-width="1" />
<circle cx="165.5" cy="263.5" r="1.8" fill="#fff" stroke="#666" stroke-width="0.7"/>
<circle cx="165.5" cy="319.5" r="1.8" fill="#fff" stroke="#666" stroke-width="0.7"/>
<circle cx="165.5" cy="453.5" r="1.8" fill="#fff" stroke="#666" stroke-width="0.7"/>
<circle cx="165.5" cy="516.5" r="1.8" fill="#fff" stroke="#666" stroke-width="0.7"/>
<circle cx="165.5" cy="720.5" r="1.8" fill="#fff" stroke="#666" stroke-width="0.7"/>
<circle cx="165.5" cy="790.5" r="1.8" fill="#fff" stroke="#666" stroke-width="0.7"/>
<circle cx="165.5" cy="966.5" r="1.8" fill="#fff" stroke="#666" stroke-width="0.7"/>
<circle cx="179.5" cy="291.5" r="1.8" fill="#fff" stroke="#666" stroke-width="0.7"/>
<circle cx="179.5" cy="348.5" r="1.8" fill="#fff" stroke="#666" stroke-width="0.7"/>
<circle cx="179.5" cy="390.5" r="1.8" fill="#fff" stroke="#666" stroke-width="0.7"/>
<circle cx="179.5" cy="481.5" r="1.8" fill="#fff" stroke="#666" stroke-width="0.7"/>
<circle cx="179.5" cy="545.5" r="1.8" fill="#fff" stroke="#666" stroke-width="0.7"/>
<circle cx="179.5" cy="748.5" r="1.8" fill="#fff" stroke="#666" stroke-width="0.7"/>
<circle cx="179.5" cy="818.5" r="1.8" fill="#fff" stroke="#666" stroke-width="0.7"/>
<circle cx="179.5" cy="861.5" r="1.8" fill="#fff" stroke="#666" stroke-width="0.7"/>
<circle cx="179.5" cy="994.5" r="1.8" fill="#fff" stroke="#666" stroke-width="0.7"/>
<circle cx="179.5" cy="1163.5" r="2.1" fill="#111"/>
<text x="162.3" y="299.2" font-size="9" text-anchor="middle" fill="#111" stroke="#111" stroke-width="0.2" transform="rotate(-90 162.3 299.2)" >X2 / PE</text>
<text x="162.3" y="488.5" font-size="9" text-anchor="middle" fill="#111" stroke="#111" stroke-width="0.2" transform="rotate(-90 162.3 488.5)" >X2 / PE</text>
<text x="162.3" y="748.7" font-size="9" text-anchor="middle" fill="#111" stroke="#111" stroke-width="0.2" transform="rotate(-90 162.3 748.7)" >X2 / PE</text>
<text x="162.3" y="987.4" font-size="9" text-anchor="middle" fill="#111" stroke="#111" stroke-width="0.2" transform="rotate(-90 162.3 987.4)" >X2 / PE</text>
<text x="176.3" y="292" font-size="9" text-anchor="middle" fill="#111" stroke="#111" stroke-width="0.2" transform="rotate(-90 176.3 292)" >X2 / N</text>
<text x="176.3" y="390" font-size="9" text-anchor="middle" fill="#111" stroke="#111" stroke-width="0.2" transform="rotate(-90 176.3 390)" >X2 / N</text>
<text x="176.3" y="495.8" font-size="9" text-anchor="middle" fill="#111" stroke="#111" stroke-width="0.2" transform="rotate(-90 176.3 495.8)" >X2 / N</text>
<text x="176.3" y="748.6" font-size="9" text-anchor="middle" fill="#111" stroke="#111" stroke-width="0.2" transform="rotate(-90 176.3 748.6)" >X2 / N</text>
<text x="176.3" y="840" font-size="9" text-anchor="middle" fill="#111" stroke="#111" stroke-width="0.2" transform="rotate(-90 176.3 840)" >X2 / N</text>
<text x="176.3" y="1015" font-size="9" text-anchor="middle" fill="#111" stroke="#111" stroke-width="0.2" transform="rotate(-90 176.3 1015)" >X2 / N</text>
<text x="182.0" y="235.4" font-size="10" fill="#111" stroke="#111" stroke-width="0.2" text-anchor="start" transform="rotate(-90 182.0 235.4)">T2</text>
<text x="284.7" y="236.0" font-size="9" fill="#111" stroke="#111" stroke-width="0.2" text-anchor="start" transform="rotate(-90 284.7 236.0)">F21</text>
<text x="284.7" y="605.5" font-size="9" fill="#111" stroke="#111" stroke-width="0.2" text-anchor="start" transform="rotate(-90 284.7 605.5)">F3</text>
<text x="285.0" y="1210.3" font-size="9" fill="#111" stroke="#111" stroke-width="0.2" text-anchor="start" transform="rotate(-90 285.0 1210.3)">F2</text>
<text x="309.5" y="224.0" font-size="10" fill="#111" stroke="#111" stroke-width="0.2" text-anchor="start" transform="rotate(180 309.5 224.0)">T4A</text>
<text x="309.2" y="596.3" font-size="10" fill="#111" stroke="#111" stroke-width="0.2" text-anchor="start" transform="rotate(180 309.2 596.3)">T4A</text>
<text x="309.0" y="1202.0" font-size="10" fill="#111" stroke="#111" stroke-width="0.2" text-anchor="start" transform="rotate(180 309.0 1202.0)">T4A</text>
<text x="366.8" y="216.6" font-size="8.7" fill="#111" stroke="#111" stroke-width="0.2" text-anchor="start" transform="rotate(180 366.8 216.6)">N17.1-</text>
<text x="369.0" y="206.0" font-size="8.7" fill="#111" stroke="#111" stroke-width="0.2" text-anchor="start" transform="rotate(180 369.0 206.0)">J5 / C1</text>
<text x="169.4" y="1239.1" font-size="10" fill="#111" stroke="#111" stroke-width="0.2" text-anchor="start" transform="rotate(-90 169.4 1239.1)">PE</text>
<text x="183.6" y="1236.8" font-size="10" fill="#111" stroke="#111" stroke-width="0.2" text-anchor="start" transform="rotate(-90 183.6 1236.8)">N</text>
<text x="196.8" y="1236.8" font-size="10" fill="#111" stroke="#111" stroke-width="0.2" text-anchor="start" transform="rotate(-90 196.8 1236.8)">L</text>
<text x="152.5" y="1240" font-size="11" fill="#111" stroke="#111" stroke-width="0.2" text-anchor="start" transform="rotate(-90 152.5 1240)">X2</text>
<line x1="404.5" y1="685.3" x2="404.5" y2="713.9" stroke="#111" stroke-width="1" />
<line x1="404.2" y1="685.5" x2="446.5" y2="685.5" stroke="#111" stroke-width="1" />
<circle cx="418.5" cy="685.5" r="1.5" fill="#fff" stroke="#777" stroke-width="0.7"/>
<line x1="404.2" y1="699.5" x2="446.5" y2="699.5" stroke="#111" stroke-width="1" />
<circle cx="418.5" cy="699.5" r="1.5" fill="#fff" stroke="#777" stroke-width="0.7"/>
<line x1="404.2" y1="713.5" x2="446.5" y2="713.5" stroke="#111" stroke-width="1" />
<circle cx="418.5" cy="713.5" r="1.5" fill="#fff" stroke="#777" stroke-width="0.7"/>
<line x1="390.5" y1="699.5" x2="404.2" y2="699.5" stroke="#111" stroke-width="1" />
<line x1="390.5" y1="696" x2="390.5" y2="703.5" stroke="#111" stroke-width="1" />
<text font-size="9" fill="#111" transform="translate(386.2 696.2) rotate(180) scale(0.97 1)">N17.1- J3</text>
<text font-size="9.5" text-anchor="middle" fill="#111" stroke="#111" stroke-width="0.2" transform="translate(421.6 728.4) rotate(-90) scale(1 1)">X5</text>
<text font-size="6.8" text-anchor="middle" fill="#222" stroke="#222" stroke-width="0.1" transform="translate(420.5 678.6) rotate(-90) scale(1 1)">1</text>
<text font-size="6.8" text-anchor="middle" fill="#222" stroke="#222" stroke-width="0.1" transform="translate(420.5 692.2) rotate(-90) scale(1 1)">2</text>
<text font-size="6.8" text-anchor="middle" fill="#222" stroke="#222" stroke-width="0.1" transform="translate(420.5 706.3) rotate(-90) scale(1 1)">3</text>
<rect x="467.5" y="636.5" width="14.0" height="28.0" fill="#fff" stroke="#111" stroke-width="1" />
<line x1="474.5" y1="636.4" x2="474.5" y2="664.5" stroke="#111" stroke-width="1" />
<line x1="467.4" y1="643.5" x2="481.4" y2="643.5" stroke="#111" stroke-width="1" />
<line x1="467.4" y1="650.5" x2="481.4" y2="650.5" stroke="#111" stroke-width="1" />
<line x1="467.4" y1="657.5" x2="481.4" y2="657.5" stroke="#111" stroke-width="1" />
<path d="M468.6 637.7 L473.4 642.4 M473.4 637.7 L468.6 642.4" stroke="#666" stroke-width="0.6" fill="none"/>
<circle cx="477.9" cy="640.0" r="2" fill="none" stroke="#ddd" stroke-width="0.5"/>
<path d="M468.6 644.75 L473.4 649.4499999999999 M473.4 644.75 L468.6 649.4499999999999" stroke="#666" stroke-width="0.6" fill="none"/>
<circle cx="477.9" cy="647.05" r="2" fill="none" stroke="#ddd" stroke-width="0.5"/>
<path d="M468.6 651.8000000000001 L473.4 656.5 M473.4 651.8000000000001 L468.6 656.5" stroke="#666" stroke-width="0.6" fill="none"/>
<circle cx="477.9" cy="654.1" r="2" fill="none" stroke="#ddd" stroke-width="0.5"/>
<path d="M468.6 658.85 L473.4 663.55 M473.4 658.85 L468.6 663.55" stroke="#666" stroke-width="0.6" fill="none"/>
<circle cx="477.9" cy="661.15" r="2" fill="none" stroke="#ddd" stroke-width="0.5"/>
<text font-size="6" text-anchor="middle" fill="#333" transform="translate(473.0 622.1) rotate(-90) scale(0.85 1)">FieldBus</text>
<line x1="474.4" y1="622.3" x2="481.5" y2="622.3" stroke="#111" stroke-width="0.8"/>
<path d="M483.6 622.3 L480.2 620.6 L480.2 624 Z" fill="#111"/>
<text font-size="6.5" text-anchor="middle" fill="#333" transform="translate(491.0 621.9) rotate(-90) scale(0.82 1)">BMS</text>
<text font-size="6" text-anchor="middle" fill="#333" stroke="#333" stroke-width="0.05" transform="translate(490.3 640) rotate(-90) scale(1 1)">1</text>
<text font-size="6" text-anchor="middle" fill="#333" stroke="#333" stroke-width="0.05" transform="translate(490.3 646.7) rotate(-90) scale(1 1)">2</text>
<text font-size="6" text-anchor="middle" fill="#333" stroke="#333" stroke-width="0.05" transform="translate(490.3 653.8) rotate(-90) scale(1 1)">3</text>
<text font-size="6" text-anchor="middle" fill="#333" stroke="#333" stroke-width="0.05" transform="translate(490.3 660.4) rotate(-90) scale(1 1)">4</text>
<rect x="502.5" y="685.5" width="21" height="39" fill="none" stroke="#111" stroke-width="1" stroke-dasharray="3 1.6"/>
<circle cx="512.7" cy="715.2" r="3.6" fill="#111"/>
<line x1="512.5" y1="692.4" x2="512.5" y2="712" stroke="#666" stroke-width="0.7"/>
<path d="M511 692.7 L512.9 689.8 L514.9 692.7 Z" fill="#111"/>
<polyline points="512.5,708 507.4,702.2 507.4,700" fill="none" stroke="#666" stroke-width="0.7"/>
<circle cx="507.4" cy="699.9" r="1.9" fill="#111"/>
<polyline points="512.5,704.8 518.2,699" fill="none" stroke="#666" stroke-width="0.7"/>
<rect x="516.2" y="694" width="4.6" height="4.6" fill="#111"/>
<rect x="502.5" y="735.5" width="28" height="28" fill="none" stroke="#111" stroke-width="1" stroke-dasharray="3 1.6"/>
<rect x="507.5" y="743.5" width="11" height="11" fill="none" stroke="#111" stroke-width="1"/>
<rect x="520.5" y="740.5" width="5" height="17" fill="none" stroke="#111" stroke-width="1"/>
<line x1="522.7" y1="742" x2="522.7" y2="745.6" stroke="#555" stroke-width="0.6"/>
<rect x="509.5" y="854.5" width="21" height="84" fill="none" stroke="#111" stroke-width="1" stroke-dasharray="3 1.8"/>
<rect x="509.5" y="952.5" width="21" height="85" fill="none" stroke="#111" stroke-width="1" stroke-dasharray="3 1.8"/>
<text font-size="9.6" text-anchor="middle" fill="#111" stroke="#111" stroke-width="0.2" transform="translate(523.3 896.5) rotate(-90) scale(1 1)">serial card</text>
<text font-size="9.6" text-anchor="middle" fill="#111" stroke="#111" stroke-width="0.2" transform="translate(523.3 994.8) rotate(-90) scale(1 1)">field card</text>
<path d="M356.0 871.6999999999999 Q353.7 875.3 356.0 878.9" fill="none" stroke="#aaa" stroke-width="0.6"/>
<rect x="357.3" y="873.5999999999999" width="6.599999999999966" height="3.4" fill="#111"/>
<rect x="395.5" y="873.5999999999999" width="6.300000000000011" height="3.4" fill="#111"/>
<path d="M401.7 871.6999999999999 Q404 875.3 401.7 878.9" fill="none" stroke="#aaa" stroke-width="0.6"/>
<polyline points="363.9,875.3 372.2,875.3 372.2,868.0" fill="none" stroke="#111" stroke-width="1"/>
<line x1="365.2" y1="867.9" x2="386" y2="875.3" stroke="#888" stroke-width="0.6"/>
<line x1="386" y1="875.3" x2="395.5" y2="875.3" stroke="#111" stroke-width="1"/>
<line x1="379.4" y1="873.0" x2="379.4" y2="882.0999999999999" stroke="#4a5ea8" stroke-width="0.8" stroke-dasharray="2.2 1.3"/>
<rect x="372.2" y="882.0999999999999" width="14.400000000000034" height="14.4" fill="#fff" stroke="#4a5ea8" stroke-width="0.9"/>
<text font-size="8.5" text-anchor="middle" fill="#4a5ea8" stroke="#4a5ea8" stroke-width="0.2" transform="translate(382.79999999999995 889.3) rotate(-90) scale(0.9 1)">P&gt;</text>
<path d="M356.0 948.6 Q353.7 952.2 356.0 955.8000000000001" fill="none" stroke="#aaa" stroke-width="0.6"/>
<rect x="357.3" y="950.5" width="6.599999999999966" height="3.4" fill="#111"/>
<rect x="395.5" y="950.5" width="6.300000000000011" height="3.4" fill="#111"/>
<path d="M401.7 948.6 Q404 952.2 401.7 955.8000000000001" fill="none" stroke="#aaa" stroke-width="0.6"/>
<polyline points="363.9,952.2 372.2,952.2 372.2,944.9000000000001" fill="none" stroke="#111" stroke-width="1"/>
<line x1="365.2" y1="944.8000000000001" x2="386" y2="952.2" stroke="#888" stroke-width="0.6"/>
<line x1="386" y1="952.2" x2="395.5" y2="952.2" stroke="#111" stroke-width="1"/>
<line x1="379.4" y1="949.9000000000001" x2="379.4" y2="959.0" stroke="#4a5ea8" stroke-width="0.8" stroke-dasharray="2.2 1.3"/>
<rect x="372.2" y="959.0" width="14.400000000000034" height="14.4" fill="#fff" stroke="#4a5ea8" stroke-width="0.9"/>
<text font-size="8.5" text-anchor="middle" fill="#4a5ea8" stroke="#4a5ea8" stroke-width="0.2" transform="translate(382.79999999999995 966.2) rotate(-90) scale(0.9 1)">T&gt;</text>
<path d="M707.5999999999999 232.8 Q705.3 236.4 707.5999999999999 240.0" fill="none" stroke="#aaa" stroke-width="0.6"/>
<rect x="708.8" y="234.70000000000002" width="7.0" height="3.4" fill="#111"/>
<rect x="746.1" y="234.70000000000002" width="6.600000000000023" height="3.4" fill="#111"/>
<path d="M752.9000000000001 232.8 Q755.2 236.4 752.9000000000001 240.0" fill="none" stroke="#aaa" stroke-width="0.6"/>
<polyline points="715.8,236.4 727.3,236.4 727.3,229.1" fill="none" stroke="#111" stroke-width="1"/>
<line x1="720.2" y1="229.0" x2="741" y2="236.4" stroke="#888" stroke-width="0.6"/>
<line x1="741" y1="236.4" x2="746.1" y2="236.4" stroke="#111" stroke-width="1"/>
<line x1="734.4" y1="234.1" x2="734.4" y2="243.20000000000002" stroke="#4a5ea8" stroke-width="0.8" stroke-dasharray="2.2 1.3"/>
<rect x="727.3" y="243.20000000000002" width="14.5" height="14.4" fill="#fff" stroke="#4a5ea8" stroke-width="0.9"/>
<text font-size="8.5" text-anchor="middle" fill="#4a5ea8" stroke="#4a5ea8" stroke-width="0.2" transform="translate(737.8 250.4) rotate(-90) scale(0.9 1)">P&lt;</text>
<text font-size="10" text-anchor="middle" fill="#111" stroke="#111" stroke-width="0.2" transform="translate(369 889) rotate(-90) scale(0.85 1)">F4</text>
<text font-size="10" text-anchor="middle" fill="#111" stroke="#111" stroke-width="0.2" transform="translate(369 966) rotate(-90) scale(0.85 1)">F7</text>
<text font-size="10" text-anchor="middle" fill="#111" stroke="#111" stroke-width="0.2" transform="translate(724 249.3) rotate(-90) scale(0.94 1)">F5</text>
<circle cx="228.2" cy="1135.4" r="6.9" fill="#fff" stroke="#999" stroke-width="0.7"/>
<line x1="221" y1="1135.4" x2="227.5" y2="1135.4" stroke="#111" stroke-width="1"/>
<line x1="227.5" y1="1130.1" x2="227.5" y2="1140.6" stroke="#111" stroke-width="1"/>
<line x1="230.4" y1="1132" x2="230.4" y2="1138.7" stroke="#111" stroke-width="0.9"/>
<line x1="232.6" y1="1133" x2="232.6" y2="1136.8" stroke="#111" stroke-width="0.9"/>
<text font-size="6.3" text-anchor="middle" fill="#d9383a" stroke="#d9383a" stroke-width="0.2" transform="translate(305.8 1029.4) rotate(-90) scale(0.9 1)">A2</text>
<text font-size="6.3" text-anchor="middle" fill="#d9383a" stroke="#d9383a" stroke-width="0.2" transform="translate(340.9 1029.5) rotate(-90) scale(0.9 1)">A1</text>
<text font-size="10" text-anchor="start" fill="#111" stroke="#111" stroke-width="0.2" transform="translate(305.5 1060.5) rotate(-90) scale(0.94 1)">K25</text>
<path d="M355.5 1075 Q376.3 1060.5 397.5 1075.5" fill="none" stroke="#888" stroke-width="0.7"/>
<path d="M355.5 1138.4 Q376.3 1153 397.5 1138.4" fill="none" stroke="#888" stroke-width="0.7"/>
<line x1="355.5" y1="1075" x2="355.5" y2="1138.4" stroke="#111" stroke-width="1"/>
<line x1="397.5" y1="1075.5" x2="397.5" y2="1100.2" stroke="#111" stroke-width="1"/>
<line x1="397.5" y1="1114.2" x2="397.5" y2="1138.4" stroke="#111" stroke-width="1"/>
<rect x="362.5" y="1086.5" width="24" height="42" fill="#fff" stroke="#111" stroke-width="1"/>
<path d="M362.3 1072.1 V1082.5 H377.3 V1072.1 M369.6 1072.1 V1082.5 M379.1 1072.1 V1082.5 H386.5 V1072.1" fill="none" stroke="#111" stroke-width="0.9"/>
<line x1="369.6" y1="1072.5" x2="369.6" y2="1082.5" stroke="#111" stroke-width="1.6"/>
<path d="M362.3 1142 V1132.3 H377.3 V1142 M369.6 1132.3 V1142 M379.1 1142 V1132.3 H386.5 V1142" fill="none" stroke="#111" stroke-width="0.9"/>
<line x1="369.6" y1="1132.3" x2="369.6" y2="1141.5" stroke="#111" stroke-width="1.6"/>
<text font-size="5.4" text-anchor="middle" fill="#222" stroke="#222" stroke-width="0.15" transform="translate(369.6 1106.5) rotate(-90) scale(0.91 1)">www.bbbb.cccc</text>
<text font-size="5.4" text-anchor="middle" fill="#222" stroke="#222" stroke-width="0.15" transform="translate(375.9 1106.5) rotate(-90) scale(0.91 1)">ddd eee fff ggg</text>
<text font-size="5.4" text-anchor="middle" fill="#222" stroke="#222" stroke-width="0.15" transform="translate(382.0 1108) rotate(-90) scale(0.91 1)">123 456 789</text>
<path d="M403.9 1100.5 L390.5 1100.5 L390.5 1114.5 L403.9 1114.5" fill="none" stroke="#111" stroke-width="1"/>
<rect x="393.5" y="1104.5" width="10.7" height="7" fill="#fff" stroke="#111" stroke-width="1"/>
<line x1="404.2" y1="1107.5" x2="453.6" y2="1107.5" stroke="#111" stroke-width="1" />
<rect x="454" y="1101" width="13" height="13" fill="#fff"/>
<path d="M453 1100.5 L467.5 1100.5 L467.5 1114.5 L453 1114.5" fill="none" stroke="#111" stroke-width="1"/>
<rect x="453.5" y="1104.5" width="11" height="7" fill="#fff" stroke="#111" stroke-width="1"/>
<text font-size="12" text-anchor="middle" fill="#111" stroke="#111" stroke-width="0.2" transform="translate(347.5 1106.8) rotate(-90) scale(1 1)">N14</text>
<text font-size="11" text-anchor="middle" fill="#111" stroke="#111" stroke-width="0.2" transform="translate(458.0 1141.4) rotate(-90) scale(1 1)">N1</text>
<text font-size="10" text-anchor="middle" fill="#111" stroke="#111" stroke-width="0.2" transform="translate(477.8 1107) rotate(-90) scale(1 1)">J10</text>
<rect x="481.5" y="1156.5" width="56" height="42" fill="none" stroke="#111" stroke-width="1" stroke-dasharray="3.2 1.8"/>
<rect x="514.3" y="1163.4" width="7.4" height="27.9" fill="#111"/>
<line x1="519.5" y1="1163.4" x2="519.5" y2="1191.3" stroke="#555" stroke-width="0.4"/>
<rect x="523" y="1163.4" width="5.9" height="27.9" fill="#111"/>
<rect x="488.5" y="1188.5" width="21.0" height="7.0" fill="none" stroke="#111" stroke-width="1" />
<text font-size="5" text-anchor="middle" fill="#333" stroke="#333" stroke-width="0.2" transform="translate(503 1179.1) rotate(-90) scale(1 1)">c/5</text>
<text font-size="10.5" text-anchor="middle" fill="#111" stroke="#111" stroke-width="0.2" transform="translate(474.3 1178) rotate(-90) scale(0.9 1)">T1</text>
</svg></body></html>
